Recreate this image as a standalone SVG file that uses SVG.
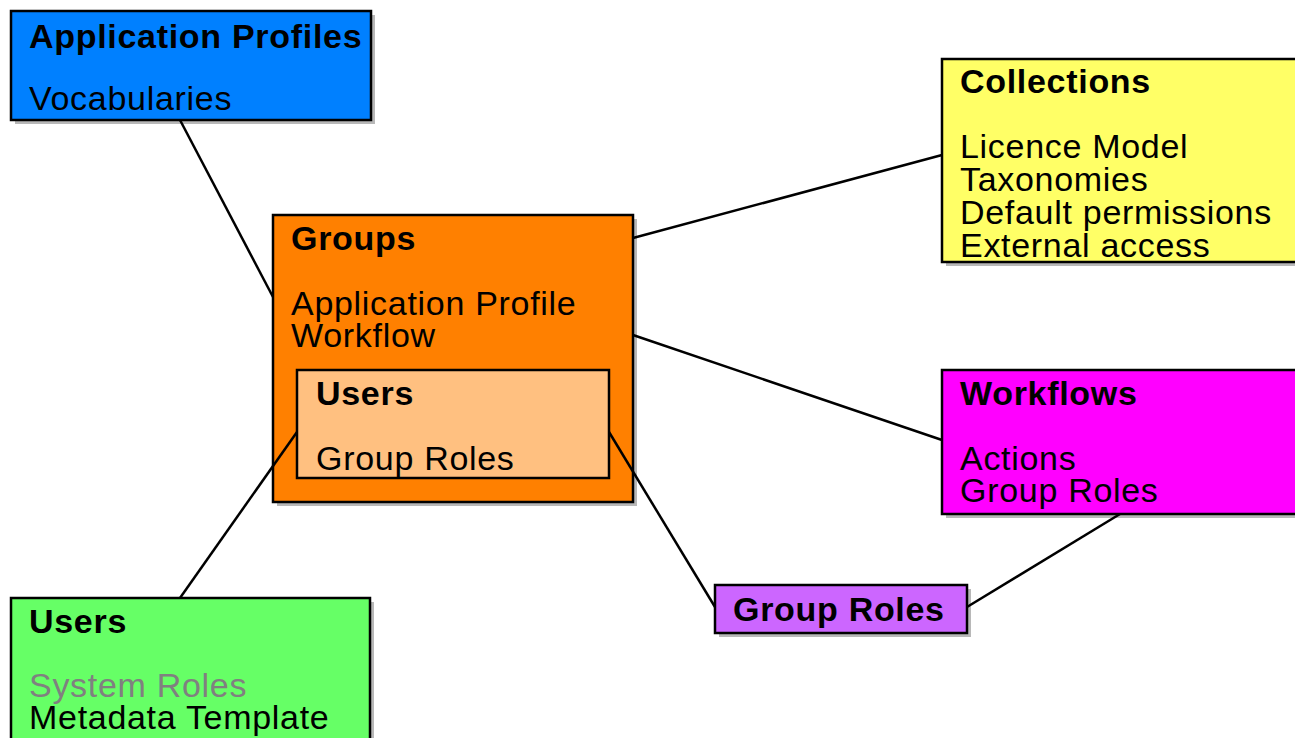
<svg xmlns="http://www.w3.org/2000/svg" width="1295" height="738" viewBox="0 0 1295 738">
<defs>
<style>
.box{stroke:#000;stroke-width:2.5}
.sh{fill:#888;opacity:0.6}
text{font-family:"Liberation Sans",Arial,sans-serif;font-size:34px;letter-spacing:0.7px;fill:#000}
.t{font-weight:bold}
.g{fill:#808080}
.c line{stroke:#000;stroke-width:2.5}
</style>
</defs>
<rect width="1295" height="738" fill="#fff"/>
<g id="app-profiles">
<rect class="sh" x="15" y="15" width="360" height="109"/>
<rect class="box" x="11" y="11" width="360" height="109" fill="#0080ff"/>
<text class="t" x="29" y="48">Application Profiles</text>
<text x="29" y="110">Vocabularies</text>
</g>
<g id="groups">
<rect class="sh" x="277" y="219" width="360" height="287"/>
<rect class="box" x="273" y="215" width="360" height="287" fill="#ff8000"/>
<text class="t" x="291" y="250">Groups</text>
<text x="291" y="315">Application Profile</text>
<text x="291" y="347">Workflow</text>
</g>
<g id="group-users">
<rect class="box" x="297" y="370" width="312" height="108" fill="#ffc080"/>
<text class="t" x="316" y="405">Users</text>
<text x="316" y="470">Group Roles</text>
</g>
<g id="collections">
<rect class="sh" x="946" y="63" width="360" height="203"/>
<rect class="box" x="942" y="59" width="360" height="203" fill="#ffff66"/>
<text class="t" x="960" y="93">Collections</text>
<text x="960" y="158">Licence Model</text>
<text x="960" y="191">Taxonomies</text>
<text x="960" y="224">Default permissions</text>
<text x="960" y="257">External access</text>
</g>
<g id="workflows">
<rect class="sh" x="946" y="374" width="360" height="144"/>
<rect class="box" x="942" y="370" width="360" height="144" fill="#ff00ff"/>
<text class="t" x="960" y="405">Workflows</text>
<text x="960" y="470">Actions</text>
<text x="960" y="502">Group Roles</text>
</g>
<g id="group-roles">
<rect class="sh" x="719" y="589" width="252" height="48"/>
<rect class="box" x="715" y="585" width="252" height="48" fill="#cc66ff"/>
<text class="t" x="733" y="621">Group Roles</text>
</g>
<g id="users">
<rect class="sh" x="15" y="602" width="359" height="150"/>
<rect class="box" x="11" y="598" width="359" height="150" fill="#66ff66"/>
<text class="t" x="29" y="633">Users</text>
<text class="g" x="29" y="697">System Roles</text>
<text x="29" y="729">Metadata Template</text>
</g>
<g class="c" id="connectors">
<line x1="180" y1="120" x2="273" y2="297"/>
<line x1="633" y1="238" x2="942" y2="155"/>
<line x1="633" y1="335" x2="942" y2="440"/>
<line x1="297" y1="432" x2="180" y2="598"/>
<line x1="609" y1="432" x2="715" y2="607"/>
<line x1="1120" y1="514" x2="967" y2="607"/>
</g>
</svg>
